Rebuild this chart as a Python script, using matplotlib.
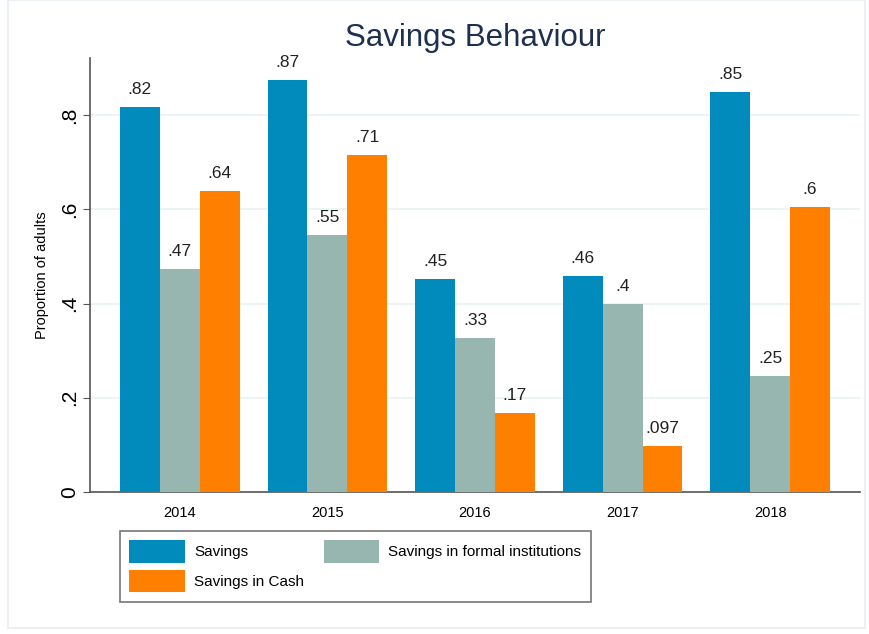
import numpy as np
import matplotlib
matplotlib.use("Agg")
from matplotlib import pyplot as plt
from matplotlib.patches import Rectangle

plt.rcParams['font.family'] = ['Liberation Sans', 'DejaVu Sans']

years = ['2014', '2015', '2016', '2017', '2018']
savings = [0.817, 0.874, 0.452, 0.458, 0.849]
formal = [0.473, 0.545, 0.327, 0.399, 0.246]
cash = [0.639, 0.715, 0.168, 0.0974, 0.605]
yticks = [0, 0.2, 0.4, 0.6, 0.8]
ytick_labels = ['0', '.2', '.4', '.6', '.8']


def stata_fmt(v):
    s = f"{v:.2g}"
    if s.startswith('0.'):
        s = s[1:]
    return s


fig = plt.figure(figsize=(8.7, 6.34), dpi=100)
ax = fig.add_axes([90 / 870, (634 - 492) / 634, 770 / 870, 434 / 634])

# faint outer border like the stata graph region
fig.patches.append(Rectangle((8 / 870, 6 / 634), 857 / 870, 628 / 634, transform=fig.transFigure,
                             fill=False, edgecolor='#e6eef1', linewidth=1.2))

x = np.arange(len(years))
w = 0.27
series = [(savings, '#008bbc', 'Savings'),
          (formal, '#97b6b0', 'Savings in formal institutions'),
          (cash, '#ff7f00', 'Savings in Cash')]
bars = []
for i, (vals, col, lab) in enumerate(series):
    b = ax.bar(x + (i - 1) * w, vals, w, color=col, label=lab, zorder=3)
    bars.append(b)
    for xi, v in zip(x + (i - 1) * w, vals):
        ax.annotate(stata_fmt(v), (xi, v), xytext=(0, 7), textcoords='offset points',
                    ha='center', va='bottom', fontsize=12.5, color='#222222')

ax.set_xlim(-0.608, 4.608)
ax.set_ylim(0, 0.921)
ax.set_yticks(yticks)
ax.set_yticklabels(ytick_labels, rotation=90, va='center', fontsize=15)
ax.set_xticks(x)
ax.set_xticklabels(years, fontsize=10.5)
ax.tick_params(axis='x', length=0, pad=10)
ax.tick_params(axis='y', length=5, color='#555555', pad=3)
ax.grid(axis='y', color='#eaf2f3', linewidth=1.2, zorder=0)
for s in ['top', 'right']:
    ax.spines[s].set_visible(False)
for s in ['left', 'bottom']:
    ax.spines[s].set_color('#555555')
    ax.spines[s].set_linewidth(1.2)

ax.set_ylabel('Proportion of adults', fontsize=10.5, labelpad=8)
fig.text(475 / 870, 1 - 38 / 634, 'Savings Behaviour', ha='center', va='center',
         fontsize=22.5, color='#1e3050')

handles = [bars[0], bars[2], bars[1]]
labels = ['Savings', 'Savings in Cash', 'Savings in formal institutions']
leg = fig.legend(handles, labels, ncol=2, loc='upper left',
                 bbox_to_anchor=(120 / 870, 1 - 531 / 634),
                 fontsize=11, frameon=True, fancybox=False,
                 handlelength=3.65, handleheight=1.85, borderpad=0.62, borderaxespad=0,
                 labelspacing=0.5, handletextpad=0.6, columnspacing=1.25)
leg.get_frame().set_edgecolor('#555555')
leg.get_frame().set_linewidth(1.2)

fig.savefig('out.png', dpi=100)
